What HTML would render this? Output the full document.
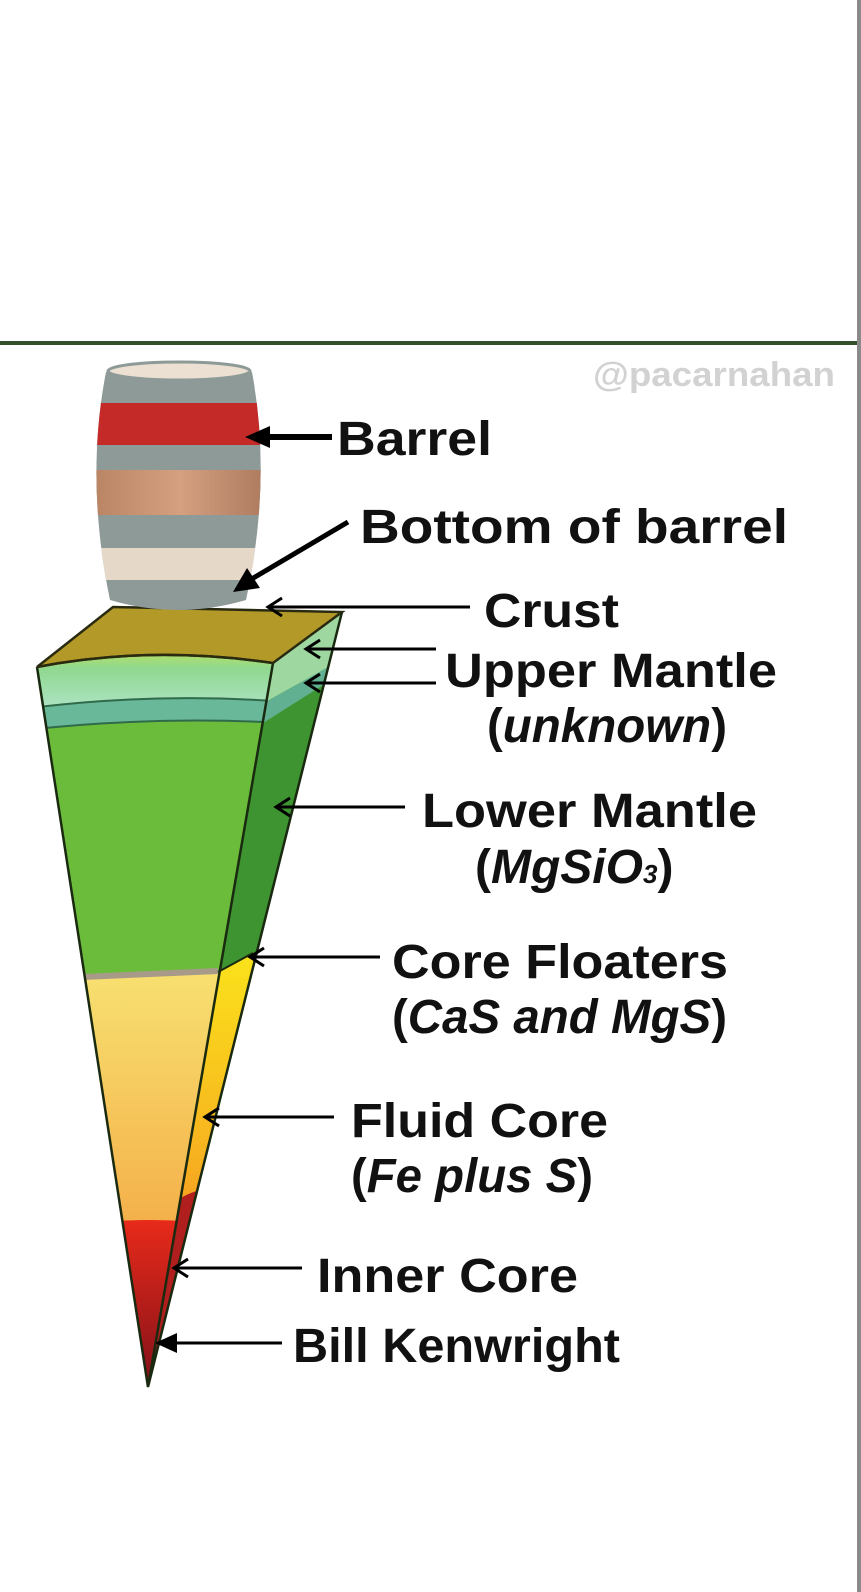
<!DOCTYPE html>
<html><head><meta charset="utf-8"><style>
html,body{margin:0;padding:0;background:#fff;}
svg{display:block;}
text{font-family:"Liberation Sans",Arial,sans-serif;font-weight:bold;fill:#111;}
</style></head><body>
<svg width="861" height="1592" viewBox="0 0 861 1592" xmlns="http://www.w3.org/2000/svg">
<defs>
<linearGradient id="core" x1="0" y1="0" x2="0" y2="1">
<stop offset="0" stop-color="#f7e070"/><stop offset="0.5" stop-color="#f5b850"/><stop offset="1" stop-color="#ef8a30"/></linearGradient>
<linearGradient id="coreS" x1="0" y1="0" x2="0" y2="1">
<stop offset="0" stop-color="#fbe81a"/><stop offset="0.5" stop-color="#f7b020"/><stop offset="1" stop-color="#e85a20"/></linearGradient>
<linearGradient id="inner" x1="0" y1="0" x2="0" y2="1">
<stop offset="0" stop-color="#e82a1a"/><stop offset="1" stop-color="#7a0f1a"/></linearGradient>
<linearGradient id="um" x1="0" y1="0" x2="0" y2="1">
<stop offset="0" stop-color="#b8e060"/><stop offset="0.3" stop-color="#90d890"/><stop offset="1" stop-color="#b0e4c8"/></linearGradient>
<linearGradient id="wood" x1="0" y1="0" x2="1" y2="0">
<stop offset="0" stop-color="#b58060"/><stop offset="0.5" stop-color="#d4a080"/><stop offset="1" stop-color="#a8745a"/></linearGradient>
<clipPath id="front"><path d="M37,667 L148,1387 L273,663 Q150,645 37,667 Z"/></clipPath>
<clipPath id="side"><path d="M273,663 L342,612 L148,1387 Z"/></clipPath>
<clipPath id="barrel"><path d="M106,372 Q85,480 110,600 Q178,620 246,600 Q272,480 252,372 Q178,358 106,372 Z"/></clipPath>
</defs>
<rect x="0" y="0" width="861" height="1592" fill="#fff"/>
<rect x="857" y="0" width="4" height="1592" fill="#8a8a8a"/>
<rect x="0" y="341" width="857" height="4" fill="#34502a"/>
<text x="593" y="386" font-size="34" style="fill:#d2d2d2" textLength="242" lengthAdjust="spacingAndGlyphs">@pacarnahan</text>

<g clip-path="url(#front)">
<rect x="0" y="600" width="300" height="800" fill="#6cbc3c"/>
<path d="M0,660 Q150,640 300,660 L300,703 Q150,690 0,712 Z" fill="url(#um)"/>
<path d="M0,712 Q150,690 300,703 L300,724 Q150,714 0,733 Z" fill="#6ab89a" stroke="#2f6b4a" stroke-width="2"/>
<path d="M0,980 L218,972 L300,972 L300,1400 L0,1400 Z" fill="url(#core)"/>
<path d="M60,978 L218,971" stroke="#a89a88" stroke-width="6"/>
<path d="M0,1240 Q150,1200 300,1240 L300,1400 L0,1400 Z" fill="url(#inner)"/>
</g>
<g clip-path="url(#side)">
<rect x="130" y="600" width="230" height="800" fill="#3e9430"/>
<path d="M260,660 L350,605 L350,655 L260,705 Z" fill="#9ed8a0"/>
<path d="M260,705 L350,655 L350,668 L260,725 Z" fill="#62b092"/>
<path d="M200,990 L218,972 L253,953 L360,930 L360,1400 L130,1400 Z" fill="url(#coreS)"/>
<path d="M130,1260 Q160,1200 200,1190 L200,1400 L130,1400 Z" fill="#b01e1e"/>
</g>
<path d="M37,667 L113,607 L342,612 L273,663 Q150,645 37,667 Z" fill="#b39a28" stroke="#2a2a10" stroke-width="2.5"/>
<path d="M37,667 L148,1387 L342,612 M273,663 L148,1387" fill="none" stroke="#1a2a10" stroke-width="2.5"/>
<path d="M218,972 L253,953" stroke="#1a2a10" stroke-width="2"/>
<path d="M37,667 Q150,645 273,663" fill="none" stroke="#2a2a10" stroke-width="2.5"/>

<g clip-path="url(#barrel)">
<rect x="80" y="355" width="200" height="260" fill="#8e9a98"/>
<rect x="80" y="403" width="200" height="42" fill="#c42a28"/>
<rect x="80" y="470" width="200" height="45" fill="url(#wood)"/>
<rect x="80" y="548" width="200" height="32" fill="#e6d8c8"/>
</g>
<ellipse cx="179" cy="371" rx="71" ry="9" fill="#ece0d2" stroke="#8e9a98" stroke-width="3"/>

<g stroke="#000" fill="none">
<line x1="332" y1="437" x2="265" y2="437" stroke-width="6"/>
<path d="M245,437 L270,426 L270,448 Z" fill="#000" stroke="none"/>
<line x1="348" y1="522" x2="250" y2="580" stroke-width="5"/>
<path d="M233,592 L247,568 L260,588 Z" fill="#000" stroke="none"/>
<g stroke-width="3">
<line x1="470" y1="607" x2="268" y2="607"/><path d="M282,598 L268,607 L282,616"/>
<line x1="436" y1="649" x2="306" y2="649"/><path d="M320,640 L306,649 L320,658"/>
<line x1="436" y1="683" x2="306" y2="683"/><path d="M320,674 L306,683 L320,692"/>
<line x1="405" y1="807" x2="276" y2="807"/><path d="M290,798 L276,807 L290,816"/>
<line x1="380" y1="957" x2="250" y2="957"/><path d="M264,948 L250,957 L264,966"/>
<line x1="334" y1="1117" x2="205" y2="1117"/><path d="M219,1108 L205,1117 L219,1126"/>
<line x1="302" y1="1268" x2="174" y2="1268"/><path d="M188,1259 L174,1268 L188,1277"/>
<line x1="282" y1="1343" x2="170" y2="1343"/>
</g>
<path d="M155,1343 L177,1333 L177,1353 Z" fill="#000" stroke="none"/>
</g>

<g font-size="48">
<text x="337" y="455" textLength="155" lengthAdjust="spacingAndGlyphs">Barrel</text>
<text x="360" y="543" textLength="428" lengthAdjust="spacingAndGlyphs">Bottom of barrel</text>
<text x="484" y="627" textLength="135" lengthAdjust="spacingAndGlyphs">Crust</text>
<text x="445" y="687" textLength="332" lengthAdjust="spacingAndGlyphs">Upper Mantle</text>
<text x="487" y="742" textLength="240" lengthAdjust="spacingAndGlyphs">(<tspan font-style="italic">unknown</tspan>)</text>
<text x="422" y="827" textLength="335" lengthAdjust="spacingAndGlyphs">Lower Mantle</text>
<text x="475" y="883">(<tspan font-style="italic">MgSiO</tspan><tspan font-style="italic" font-size="26">3</tspan>)</text>
<text x="392" y="978" textLength="336" lengthAdjust="spacingAndGlyphs">Core Floaters</text>
<text x="392" y="1033" textLength="335" lengthAdjust="spacingAndGlyphs">(<tspan font-style="italic">CaS and MgS</tspan>)</text>
<text x="351" y="1137" textLength="257" lengthAdjust="spacingAndGlyphs">Fluid Core</text>
<text x="351" y="1192" textLength="242" lengthAdjust="spacingAndGlyphs">(<tspan font-style="italic">Fe plus S</tspan>)</text>
<text x="317" y="1292" textLength="261" lengthAdjust="spacingAndGlyphs">Inner Core</text>
<text x="293" y="1362" textLength="327" lengthAdjust="spacingAndGlyphs">Bill Kenwright</text>
</g>
</svg>
</body></html>
